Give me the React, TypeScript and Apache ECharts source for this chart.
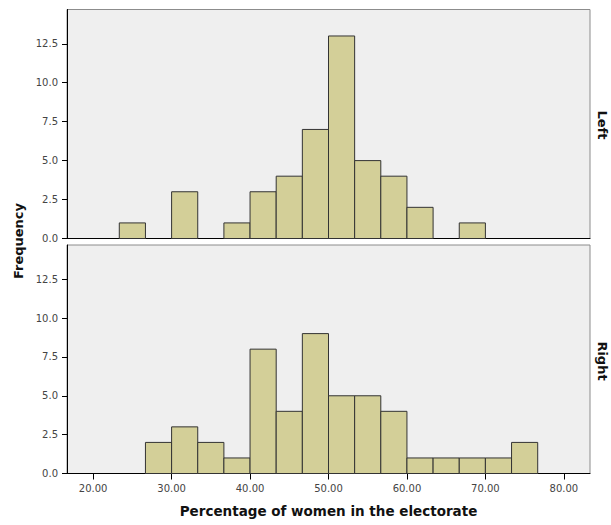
import React, { useEffect, useRef } from "react";
import * as echarts from "echarts";

// Histogram bins (lower edge, upper edge) – percentage of women in the electorate
const binLower = [23.333, 26.667, 30, 33.333, 36.667, 40, 43.333, 46.667, 50, 53.333, 56.667, 60, 63.333, 66.667, 70, 73.333];
const binUpper = [26.667, 30, 33.333, 36.667, 40, 43.333, 46.667, 50, 53.333, 56.667, 60, 63.333, 66.667, 70, 73.333, 76.667];
const leftCounts = [1, 0, 3, 0, 1, 3, 4, 7, 13, 5, 4, 2, 0, 1, 0, 0];
const rightCounts = [0, 2, 3, 2, 1, 8, 4, 9, 5, 5, 4, 1, 1, 1, 1, 2];
const panels = ["Left", "Right"];
const xTicks = [20, 30, 40, 50, 60, 70, 80];
const yTicks = [0, 2.5, 5, 7.5, 10, 12.5];
const xMin = 16.667;
const xMax = 83.333;
const yMax = 14.7;

const FONT = "DejaVu Sans";
const BAR_FILL = "#d3cf98";
const BAR_STROKE = "#333333";
const PANEL_BG = "#efefef";

function buildData(counts: number[]) {
  return counts
    .map((c, i) => [binLower[i], binUpper[i], c])
    .filter((d) => d[2] > 0);
}

const renderBar = (params: any, api: any) => {
  const lo = api.value(0);
  const hi = api.value(1);
  const c = api.value(2);
  const p0 = api.coord([lo, c]);
  const p1 = api.coord([hi, 0]);
  return {
    type: "rect",
    shape: { x: p0[0], y: p0[1], width: p1[0] - p0[0], height: p1[1] - p0[1] },
    style: { fill: BAR_FILL, stroke: BAR_STROKE, lineWidth: 1 },
  };
};

export default function App() {
  const ref = useRef<HTMLDivElement>(null);
  useEffect(() => {
    if (!ref.current) return;
    const chart = echarts.init(ref.current, null, { renderer: "svg" });
    const grids = [
      { left: 67, right: 21, top: 9.5, height: 229 },
      { left: 67, right: 21, top: 245, height: 228.5 },
    ].map((g) => ({
      ...g,
      show: true,
      backgroundColor: PANEL_BG,
      borderColor: "#8c8c8c",
      borderWidth: 1,
      containLabel: false,
    }));

    const xAxes = [0, 1].map((i) => ({
      type: "value",
      gridIndex: i,
      min: xMin,
      max: xMax,
      splitLine: { show: false },
      axisLine: { show: true, onZero: false, lineStyle: { color: "#000", width: 1 } },
      axisTick: {
        show: i === 1,
        length: 6,
        customValues: xTicks,
        lineStyle: { color: "#000" },
      },
      axisLabel: {
        show: i === 1,
        customValues: xTicks,
        formatter: (v: number) => v.toFixed(2),
        fontFamily: FONT,
        fontSize: 10,
        color: "#444",
        margin: 10,
      },
    }));

    const yAxes = [0, 1].map((i) => ({
      type: "value",
      gridIndex: i,
      min: 0,
      max: yMax,
      splitLine: { show: false },
      axisLine: { show: true, onZero: false, lineStyle: { color: "#000", width: 1 } },
      axisTick: { show: true, length: 5, customValues: yTicks, lineStyle: { color: "#000" } },
      axisLabel: {
        customValues: yTicks,
        formatter: (v: number) => v.toFixed(1),
        fontFamily: FONT,
        fontSize: 10,
        color: "#444",
        margin: 9,
      },
    }));

    const option: any = {
      animation: false,
      backgroundColor: "#ffffff",
      grid: grids,
      xAxis: xAxes,
      yAxis: yAxes,
      series: [
        {
          type: "custom",
          name: panels[0],
          xAxisIndex: 0,
          yAxisIndex: 0,
          renderItem: renderBar,
          encode: { x: [0, 1], y: 2 },
          data: buildData(leftCounts),
        },
        {
          type: "custom",
          name: panels[1],
          xAxisIndex: 1,
          yAxisIndex: 1,
          renderItem: renderBar,
          encode: { x: [0, 1], y: 2 },
          data: buildData(rightCounts),
        },
      ],
      graphic: [
        {
          type: "text",
          x: 18,
          y: 241,
          rotation: Math.PI / 2,
          style: {
            text: "Frequency",
            font: `bold 13px "${FONT}"`,
            fill: "#111",
            align: "center",
            verticalAlign: "middle",
          },
        },
        {
          type: "text",
          x: 328.5,
          y: 511,
          style: {
            text: "Percentage of women in the electorate",
            font: `bold 13.5px "${FONT}"`,
            fill: "#111",
            align: "center",
            verticalAlign: "middle",
          },
        },
        {
          type: "text",
          x: 602,
          y: 125,
          rotation: -Math.PI / 2,
          style: {
            text: panels[0],
            font: `bold 13px "${FONT}"`,
            fill: "#111",
            align: "center",
            verticalAlign: "middle",
          },
        },
        {
          type: "text",
          x: 602,
          y: 361,
          rotation: -Math.PI / 2,
          style: {
            text: panels[1],
            font: `bold 13px "${FONT}"`,
            fill: "#111",
            align: "center",
            verticalAlign: "middle",
          },
        },
      ],
    };
    chart.setOption(option);
    return () => chart.dispose();
  }, []);
  return (
    <div
      ref={ref}
      style={{ position: "fixed", left: 0, top: 0, width: 611, height: 525 }}
    />
  );
}
